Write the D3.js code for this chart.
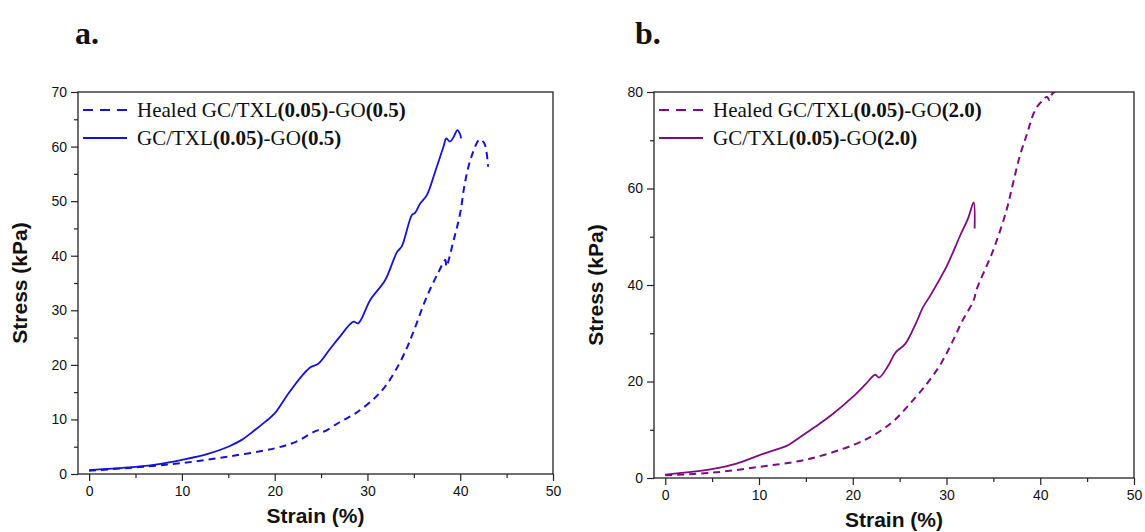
<!DOCTYPE html>
<html>
<head>
<meta charset="utf-8">
<script src="https://cdn.jsdelivr.net/npm/d3@7"></script>
<style>
  body { margin: 0; background: #fff; }
  svg { display: block; }
  .tick text { font-family: "Liberation Sans", Arial, sans-serif; font-size: 14px; fill: #111; }
  .axisTitle { font-family: "Liberation Sans", Arial, sans-serif; font-size: 21px; font-weight: bold; fill: #111; }
  .legend text { font-family: "Liberation Serif", "Times New Roman", serif; font-size: 21px; fill: #111; }
  .panelLabel { font-family: "Liberation Serif", "Times New Roman", serif; font-size: 32px; font-weight: bold; fill: #111; }
</style>
</head>
<body>
<div id="chart"></div>
<script>
// ---- data ----
// panel a: GO(0.5)
var aSolidStrain = [0, 2.5, 5, 7.5, 10, 12.8, 15, 16.5, 17.6, 19, 20, 21.5, 23.1, 23.9, 24.7, 26.0, 26.9, 28.5, 29.0, 30.3, 31.9, 33.2, 33.7, 34.8, 35.1, 35.7, 36.4, 37.3, 38.2, 38.5, 38.9, 39.3, 39.7, 39.95, 40.1];
var aSolidStress = [0.7, 1.0, 1.3, 1.8, 2.6, 3.7, 5.0, 6.3, 7.7, 9.6, 11.1, 14.8, 18.3, 19.6, 20.2, 23.0, 24.9, 27.9, 27.6, 31.9, 35.5, 40.7, 41.7, 47.5, 47.8, 49.6, 51.1, 55.4, 60.0, 61.5, 60.9, 61.8, 63.0, 62.4, 61.5];
var aHealedStrain = [0, 5, 10, 15, 20, 22.3, 24.7, 25.1, 27.1, 28.7, 30.7, 31.9, 33.3, 34.3, 34.9, 36.4, 37.6, 38.4, 38.5, 39.3, 40.0, 40.5, 41.2, 42.1, 42.6, 43.0];
var aHealedStress = [0.6, 1.2, 2.0, 3.2, 4.7, 5.9, 8.0, 7.7, 9.6, 11.1, 13.8, 16.0, 19.8, 23.3, 25.8, 32.5, 36.8, 39.2, 38.0, 42.9, 47.8, 53.3, 58.1, 61.3, 60.6, 56.3];
// panel b: GO(2.0)
var bSolidStrain = [0, 2.5, 5.1, 7.6, 10, 11.8, 12.9, 14.1, 16, 17.9, 20, 21.4, 22.4, 22.8, 23.7, 24.6, 25.6, 26.7, 27.5, 28.3, 30.0, 31.4, 32.3, 32.9, 33.0];
var bSolidStress = [0.7, 1.2, 1.9, 3.0, 4.7, 5.9, 6.6, 8.1, 10.6, 13.3, 16.8, 19.5, 21.4, 20.8, 23.0, 26.1, 27.8, 31.9, 35.4, 37.9, 43.8, 50.0, 53.8, 57.1, 51.7];
var bHealedStrain = [0, 5, 10, 15, 20, 22.5, 24.4, 26.1, 27.9, 29.4, 30.6, 31.7, 32.9, 33.2, 35.0, 36.4, 37.1, 37.8, 38.6, 39.3, 39.8, 40.3, 40.7, 41.0, 41.2, 41.6];
var bHealedStress = [0.55, 1.1, 2.3, 3.8, 6.8, 9.2, 11.9, 15.4, 19.5, 23.7, 28.1, 32.6, 36.8, 39.0, 47.3, 55.5, 61.1, 66.6, 71.4, 75.6, 77.3, 78.3, 79.0, 78.3, 79.4, 80.2];

var xTicks = [0, 10, 20, 30, 40, 50];
var aYTicks = [0, 10, 20, 30, 40, 50, 60, 70];
var bYTicks = [0, 20, 40, 60, 80];

var blue = "#1212dc";
var purple = "#7d0c82";

var svg = d3.select("#chart").append("svg")
   .attr("width", 1145)
   .attr("height", 532);

function zip(xs, ys) {
    return xs.map(function(x, i) { return {x: x, y: ys[i]}; });
}

function drawPanel(p) {
    var x = d3.scaleLinear().domain([-1.2, 50]).range([p.left, p.right]);
    var y = d3.scaleLinear().domain([0, p.yMax]).range([p.bottom, p.top]);

    var g = svg.append("g");

    // clip
    g.append("clipPath").attr("id", p.id + "clip")
      .append("rect")
      .attr("x", p.left).attr("y", p.top)
      .attr("width", p.right - p.left).attr("height", p.bottom - p.top);

    var line = d3.line()
        .curve(d3.curveCatmullRom.alpha(0.5))
        .x(d => x(d.x))
        .y(d => y(d.y));

    g.append("path")
        .attr("clip-path", "url(#" + p.id + "clip)")
        .attr("d", line(zip(p.healedX, p.healedY)))
        .attr("fill", "none")
        .attr("stroke", p.color)
        .attr("stroke-width", 2)
        .attr("stroke-dasharray", "7,5");

    g.append("path")
        .attr("clip-path", "url(#" + p.id + "clip)")
        .attr("d", line(zip(p.solidX, p.solidY)))
        .attr("fill", "none")
        .attr("stroke", p.color)
        .attr("stroke-width", 1.8);

    // minor ticks
    var minorX = d3.range(5, 50, 10);
    g.append("g")
        .attr("transform", `translate(0, ${p.bottom})`)
        .call(d3.axisBottom(x).tickValues(minorX).tickSize(4).tickFormat(""))
        .call(a => a.select(".domain").remove());
    g.append("g")
        .attr("transform", `translate(${p.left}, 0)`)
        .call(d3.axisLeft(y).tickValues(p.yMinor).tickSize(4).tickFormat(""))
        .call(a => a.select(".domain").remove());

    // main axes
    var xAxis = g.append("g")
        .attr("transform", `translate(0, ${p.bottom})`)
        .call(d3.axisBottom(x).tickValues(xTicks).tickSize(7).tickPadding(5));
    var yAxis = g.append("g")
        .attr("transform", `translate(${p.left}, 0)`)
        .call(d3.axisLeft(y).tickValues(p.yTicks).tickSize(7).tickPadding(4));
    [xAxis, yAxis].forEach(function(a) {
        a.select(".domain").remove();
    });
    g.selectAll(".tick line").attr("stroke", "#222").attr("stroke-width", 1.2);

    // frame
    g.append("rect")
        .attr("x", p.left).attr("y", p.top)
        .attr("width", p.right - p.left).attr("height", p.bottom - p.top)
        .attr("fill", "none")
        .attr("stroke", "#222")
        .attr("stroke-width", 1.3);

    // axis titles
    g.append("text")
        .attr("class", "axisTitle")
        .attr("x", (p.left + p.right) / 2)
        .attr("y", p.bottom + 49)
        .attr("text-anchor", "middle")
        .text("Strain (%)");
    g.append("text")
        .attr("class", "axisTitle")
        .attr("transform", `translate(${p.left - 51}, ${(p.top + p.bottom) / 2}) rotate(-90)`)
        .attr("text-anchor", "middle")
        .text("Stress (kPa)");

    // panel letter
    g.append("text")
        .attr("class", "panelLabel")
        .attr("x", p.labelX)
        .attr("y", 44)
        .text(p.label);

    // legend
    var lg = g.append("g").attr("class", "legend");
    var rows = [
        {dash: "10,7", pre: "Healed GC/TXL"},
        {dash: null, pre: "GC/TXL"}
    ];
    rows.forEach(function(r, i) {
        var ly = p.top + 18 + i * 28;
        lg.append("line")
            .attr("x1", p.left + 5).attr("x2", p.left + 49)
            .attr("y1", ly).attr("y2", ly)
            .attr("stroke", p.color)
            .attr("stroke-width", 2)
            .attr("stroke-dasharray", r.dash);
        var t = lg.append("text")
            .attr("x", p.left + 59)
            .attr("y", ly + 7);
        t.append("tspan").text(r.pre);
        t.append("tspan").attr("font-weight", "bold").text("(0.05)");
        t.append("tspan").text("-GO");
        t.append("tspan").attr("font-weight", "bold").text(p.goLabel);
    });
}

drawPanel({
    id: "a", label: "a.", labelX: 75,
    left: 78, right: 553, top: 92, bottom: 474,
    yMax: 70, yTicks: aYTicks, yMinor: d3.range(5, 70, 10),
    color: blue, goLabel: "(0.5)",
    solidX: aSolidStrain, solidY: aSolidStress,
    healedX: aHealedStrain, healedY: aHealedStress
});

drawPanel({
    id: "b", label: "b.", labelX: 635,
    left: 654, right: 1134, top: 92, bottom: 478,
    yMax: 80, yTicks: bYTicks, yMinor: d3.range(10, 80, 20),
    color: purple, goLabel: "(2.0)",
    solidX: bSolidStrain, solidY: bSolidStress,
    healedX: bHealedStrain, healedY: bHealedStress
});
</script>
</body>
</html>
